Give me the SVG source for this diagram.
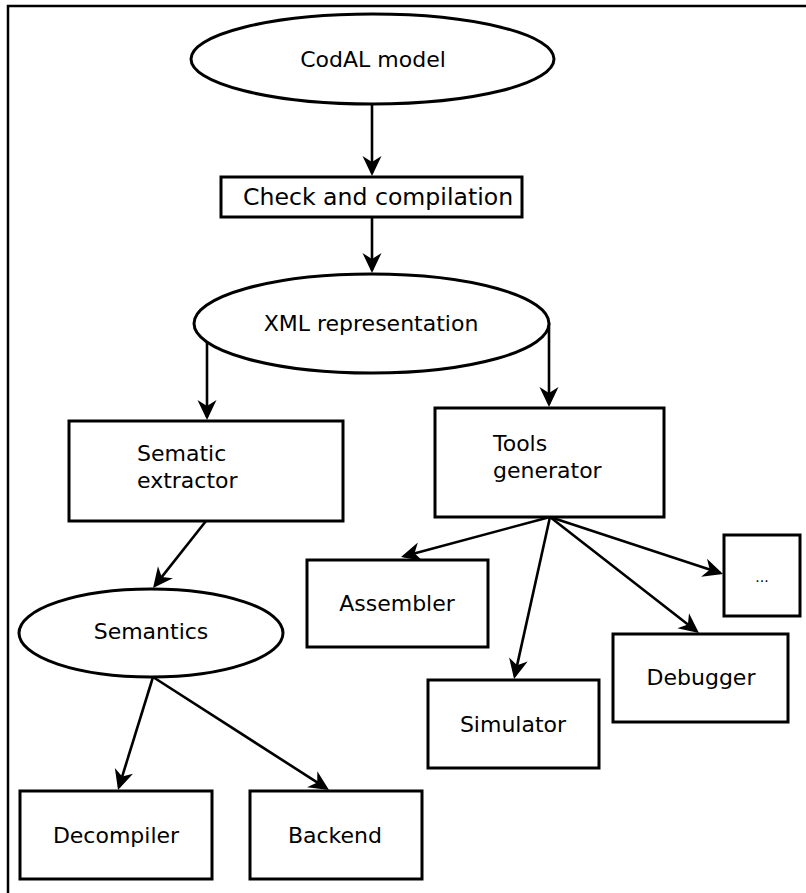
<svg xmlns="http://www.w3.org/2000/svg" width="806" height="893" viewBox="0 0 806 893">
<style>
.n{fill:#fff;stroke:#000;stroke-width:3}
.t{font-family:"DejaVu Sans",sans-serif;font-size:22px;fill:#000}
.m{text-anchor:middle}
.c{fill:none;stroke:#000;stroke-width:2.6;marker-end:url(#ah)}
</style>
<defs>
<marker id="ah" markerUnits="userSpaceOnUse" markerWidth="24" markerHeight="22" viewBox="0 -11 22 22" refX="17" refY="0" orient="auto">
<path d="M0,-9.5 L20,0 L0,9.5 L6,0 Z" fill="#000"/>
</marker>
</defs>
<rect x="8" y="6" width="820" height="900" fill="#fff" stroke="#000" stroke-width="2.5"/>
<g id="connectors">
<path class="c" d="M372,104 L372,173"/>
<path class="c" d="M372,218 L372,270"/>
<path class="c" d="M207,342 L207,417"/>
<path class="c" d="M549,323 L549,404"/>
<path class="c" d="M206,521 L154.9,585.6"/>
<path class="c" d="M550,517 L403.9,556.2"/>
<path class="c" d="M550,517 L514.7,676.1"/>
<path class="c" d="M550,517 L696.6,631.2"/>
<path class="c" d="M550,517 L720.2,573.1"/>
<path class="c" d="M153,677 L118.9,787.1"/>
<path class="c" d="M153,677 L326.5,788.4"/>
</g>
<g id="codal">
<ellipse class="n" cx="372.5" cy="59" rx="181.5" ry="45"/>
<text class="t m" x="373" y="67">CodAL model</text>
</g>
<g id="check">
<rect class="n" x="221" y="177" width="301" height="40"/>
<text class="t" x="243" y="205" style="font-size:23.6px">Check and compilation</text>
</g>
<g id="xml">
<ellipse class="n" cx="371.5" cy="323.5" rx="177.5" ry="49.5"/>
<text class="t m" x="371" y="331">XML representation</text>
</g>
<g id="extractor">
<rect class="n" x="69" y="421" width="274" height="100"/>
<text class="t" x="137" y="461">Sematic</text>
<text class="t" x="137" y="488">extractor</text>
</g>
<g id="tools">
<rect class="n" x="435" y="408" width="229" height="109"/>
<text class="t" x="493" y="451">Tools</text>
<text class="t" x="493" y="478">generator</text>
</g>
<g id="semantics">
<ellipse class="n" cx="151" cy="633" rx="132" ry="44"/>
<text class="t m" x="151" y="639">Semantics</text>
</g>
<g id="assembler">
<rect class="n" x="307" y="560" width="181" height="87"/>
<text class="t m" x="397" y="611">Assembler</text>
</g>
<g id="more">
<rect class="n" x="724" y="535" width="76" height="81"/>
<text class="t m" x="762" y="582" style="font-size:14px">...</text>
</g>
<g id="debugger">
<rect class="n" x="613" y="634" width="175" height="88"/>
<text class="t m" x="701" y="685">Debugger</text>
</g>
<g id="simulator">
<rect class="n" x="428" y="680" width="171" height="88"/>
<text class="t m" x="513" y="732">Simulator</text>
</g>
<g id="decompiler">
<rect class="n" x="20" y="791" width="192" height="88"/>
<text class="t m" x="116" y="843">Decompiler</text>
</g>
<g id="backend">
<rect class="n" x="250" y="791" width="172" height="88"/>
<text class="t m" x="335" y="843">Backend</text>
</g>
</svg>
